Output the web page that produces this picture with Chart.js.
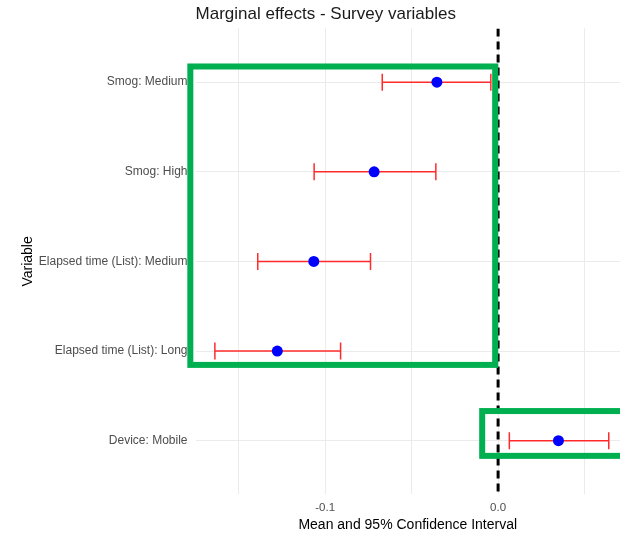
<!DOCTYPE html>
<html>
<head>
<meta charset="utf-8">
<title>Marginal effects - Survey variables</title>
<script src="https://cdn.jsdelivr.net/npm/chart.js@4.4.1/dist/chart.umd.min.js"></script>
<style>
	body { margin: 0; background: #fff; }
	#wrap { width: 620px; height: 534px; position: relative; }
</style>
</head>
<body>
<div id="wrap"><canvas id="myChart1"></canvas></div>
<script>
var categories = ['Smog: Medium', 'Smog: High', 'Elapsed time (List): Medium', 'Elapsed time (List): Long', 'Device: Mobile'];
var means = [-0.0354, -0.0717, -0.1066, -0.1277, 0.0349];
var lower = [-0.0670, -0.1064, -0.1390, -0.1638, 0.0065];
var upper = [-0.0042, -0.0360, -0.0738, -0.0911, 0.0640];
var xGrid = [-0.15, -0.1, -0.05, 0, 0.05];
var xLabels = ['', '-0.1', '', '0.0', ''];

// green highlight rectangles, in data units (x value, category index)
var boxes = [
	{ x0: -0.178, x1: -0.0017, y0: -0.175, y1: 3.155 },
	{ x0: -0.0092, x1: 0.09, y0: 3.67, y1: 4.17 }
];

var FONT = 'Liberation Sans, Arial, sans-serif';

var boxPlugin = {
	id: 'boxes',
	afterDraw: function(chart){
		var ctx = chart.ctx;
		var xs = chart.scales.x;
		var ys = chart.scales.y;
		ctx.save();
		ctx.strokeStyle = '#00b050';
		ctx.lineWidth = 6;
		boxes.forEach(function(b){
			var l = xs.getPixelForValue(b.x0);
			var r = xs.getPixelForValue(b.x1);
			var t = ys.getPixelForValue(b.y0);
			var bt = ys.getPixelForValue(b.y1);
			ctx.strokeRect(l, t, r - l, bt - t);
		});
		ctx.restore();
	}
};

var datasets = [];

datasets.push({
	type: 'scatter',
	data: means.map(function(v, i){ return { x: v, y: i }; }),
	pointRadius: 5.5,
	pointBackgroundColor: '#0000ff',
	pointBorderColor: '#0000ff',
	pointBorderWidth: 0,
	order: 0
});

// error bars: one small line per category, caps drawn as rotated 'line' points
for (var i = 0; i < categories.length; i++) {
	datasets.push({
		type: 'line',
		data: [{ x: lower[i], y: i }, { x: upper[i], y: i }],
		borderColor: '#ff2b2b',
		borderWidth: 1.5,
		pointStyle: 'line',
		pointRotation: 90,
		pointRadius: 8.5,
		pointBorderColor: '#ff2b2b',
		pointBorderWidth: 1.5,
		order: 1
	});
}

// dashed reference line at zero
datasets.push({
	type: 'line',
	data: [{ x: 0, y: -0.6 }, { x: 0, y: 4.6 }],
	borderColor: '#000',
	borderWidth: 3,
	borderDash: [8, 5],
	pointRadius: 0,
	order: 2
});

var ctx = document.getElementById('myChart1');

var myChart = new Chart(ctx, {
	type: 'scatter',
	data: { datasets: datasets },
	options: {
		responsive: true,
		maintainAspectRatio: false,
		animation: false,
		layout: { autoPadding: false, padding: { left: 20, right: 0, top: 0, bottom: 0 } },
		plugins: {
			legend: { display: false },
			tooltip: { enabled: false },
			title: {
				display: true,
				text: 'Marginal effects - Survey variables',
				align: 'start',
				fullSize: false,
				color: '#1a1a1a',
				font: { family: FONT, size: 17, weight: 'normal' },
				padding: { top: 4, bottom: 4 }
			}
		},
		scales: {
			x: {
				type: 'linear',
				min: -0.175,
				max: 0.0705,
				afterBuildTicks: function(scale){
					scale.ticks = xGrid.map(function(v){ return { value: v }; });
				},
				ticks: {
					padding: 7,
					color: '#4d4d4d',
					font: { family: FONT, size: 11.5 },
					maxRotation: 0,
					autoSkip: false,
					callback: function(value, index){
						return xLabels[index];
					}
				},
				grid: { color: '#ebebeb', lineWidth: 1, drawTicks: false },
				border: { display: false },
				title: {
					display: true,
					text: 'Mean and 95% Confidence Interval',
					color: '#000',
					font: { family: FONT, size: 14 },
					padding: { top: -5, bottom: 0 }
				}
			},
			y: {
				type: 'linear',
				reverse: true,
				min: -0.6,
				max: 4.6,
				afterBuildTicks: function(scale){
					scale.ticks = categories.map(function(c, i){ return { value: i }; });
				},
				ticks: {
					padding: 8,
					color: '#4d4d4d',
					font: { family: FONT, size: 12 },
					autoSkip: false,
					callback: function(value){
						return categories[value];
					}
				},
				grid: { color: '#ebebeb', lineWidth: 1, drawTicks: false },
				border: { display: false },
				title: {
					display: true,
					text: 'Variable',
					color: '#000',
					font: { family: FONT, size: 14 },
					padding: { top: 0, bottom: -6 }
				}
			}
		}
	},
	plugins: [boxPlugin]
});
</script>
</body>
</html>
